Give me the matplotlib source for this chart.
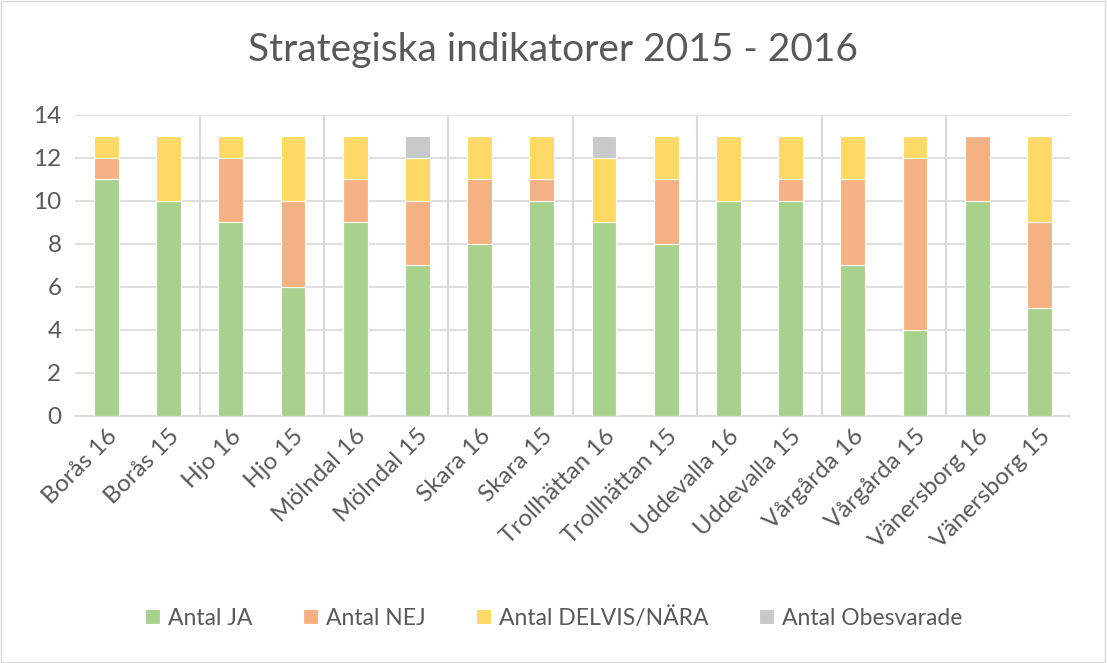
import numpy as np
import matplotlib.pyplot as plt
from matplotlib.patches import Rectangle

plt.rcParams['font.family'] = ['Lato', 'DejaVu Sans']

kategorier = ["Borås 16", "Borås 15", "Hjo 16", "Hjo 15", "Mölndal 16", "Mölndal 15",
              "Skara 16", "Skara 15", "Trollhättan 16", "Trollhättan 15",
              "Uddevalla 16", "Uddevalla 15", "Vårgårda 16", "Vårgårda 15",
              "Vänersborg 16", "Vänersborg 15"]
antal_ja = [11, 10, 9, 6, 9, 7, 8, 10, 9, 8, 10, 10, 7, 4, 10, 5]
antal_nej = [1, 0, 3, 4, 2, 3, 3, 1, 0, 3, 0, 1, 4, 8, 3, 4]
antal_delvis = [1, 3, 1, 3, 2, 2, 2, 2, 3, 2, 3, 2, 2, 1, 0, 4]
antal_obesvarade = [0, 0, 0, 0, 0, 1, 0, 0, 1, 0, 0, 0, 0, 0, 0, 0]

serier = [("Antal JA", antal_ja, "#A9D18E"),
          ("Antal NEJ", antal_nej, "#F4B183"),
          ("Antal DELVIS/NÄRA", antal_delvis, "#FFD966"),
          ("Antal Obesvarade", antal_obesvarade, "#C9C9C9")]

fig = plt.figure(figsize=(11.07, 6.63), dpi=100)
ax = fig.add_axes([0.068, 0.373, 0.899, 0.454])

x = np.arange(len(kategorier))
bottom = np.zeros(len(kategorier))
for namn, varden, farg in serier:
    ax.bar(x, varden, 0.4, bottom=bottom, color=farg, label=namn,
           edgecolor="white", linewidth=0.8, zorder=3)
    bottom += np.array(varden)

# grupp-avdelare
for sep in np.arange(1.5, len(kategorier) - 1, 2):
    ax.plot([sep, sep], [0, 14], color="#D9D9D9", linewidth=1.5, zorder=2)

ax.set_xlim(-0.5, len(kategorier) - 0.5)
ax.set_ylim(0, 14)
ax.set_yticks(range(0, 15, 2))
ax.yaxis.grid(True, color="#D9D9D9", linewidth=1.2, zorder=0)
for s in ["top", "right", "left"]:
    ax.spines[s].set_visible(False)
ax.spines["bottom"].set_color("#D9D9D9")
ax.spines["bottom"].set_linewidth(1.2)
ax.tick_params(axis="y", length=0, labelsize=17.5, colors="#595959", pad=10)
ax.tick_params(axis="x", length=0, labelsize=17.5, colors="#595959", pad=7)
ax.set_xticks(x)
ax.set_xticklabels(kategorier, rotation=45, ha="right", rotation_mode="anchor")

fig.text(0.5, 0.925, "Strategiska indikatorer 2015 - 2016", ha="center", va="center",
         fontsize=28, color="#595959")

fig.legend(loc="center", bbox_to_anchor=(0.5, 0.068), ncol=4, frameon=False,
           fontsize=16.5, labelcolor="#595959", handlelength=0.65, handleheight=0.65,
           columnspacing=2.2, handletextpad=0.35)

fig.patches.append(Rectangle((0.001, 0.001), 0.997, 0.997, transform=fig.transFigure,
                             fill=False, edgecolor="#D9D9D9", linewidth=1))

plt.savefig("out.png", dpi=100)
